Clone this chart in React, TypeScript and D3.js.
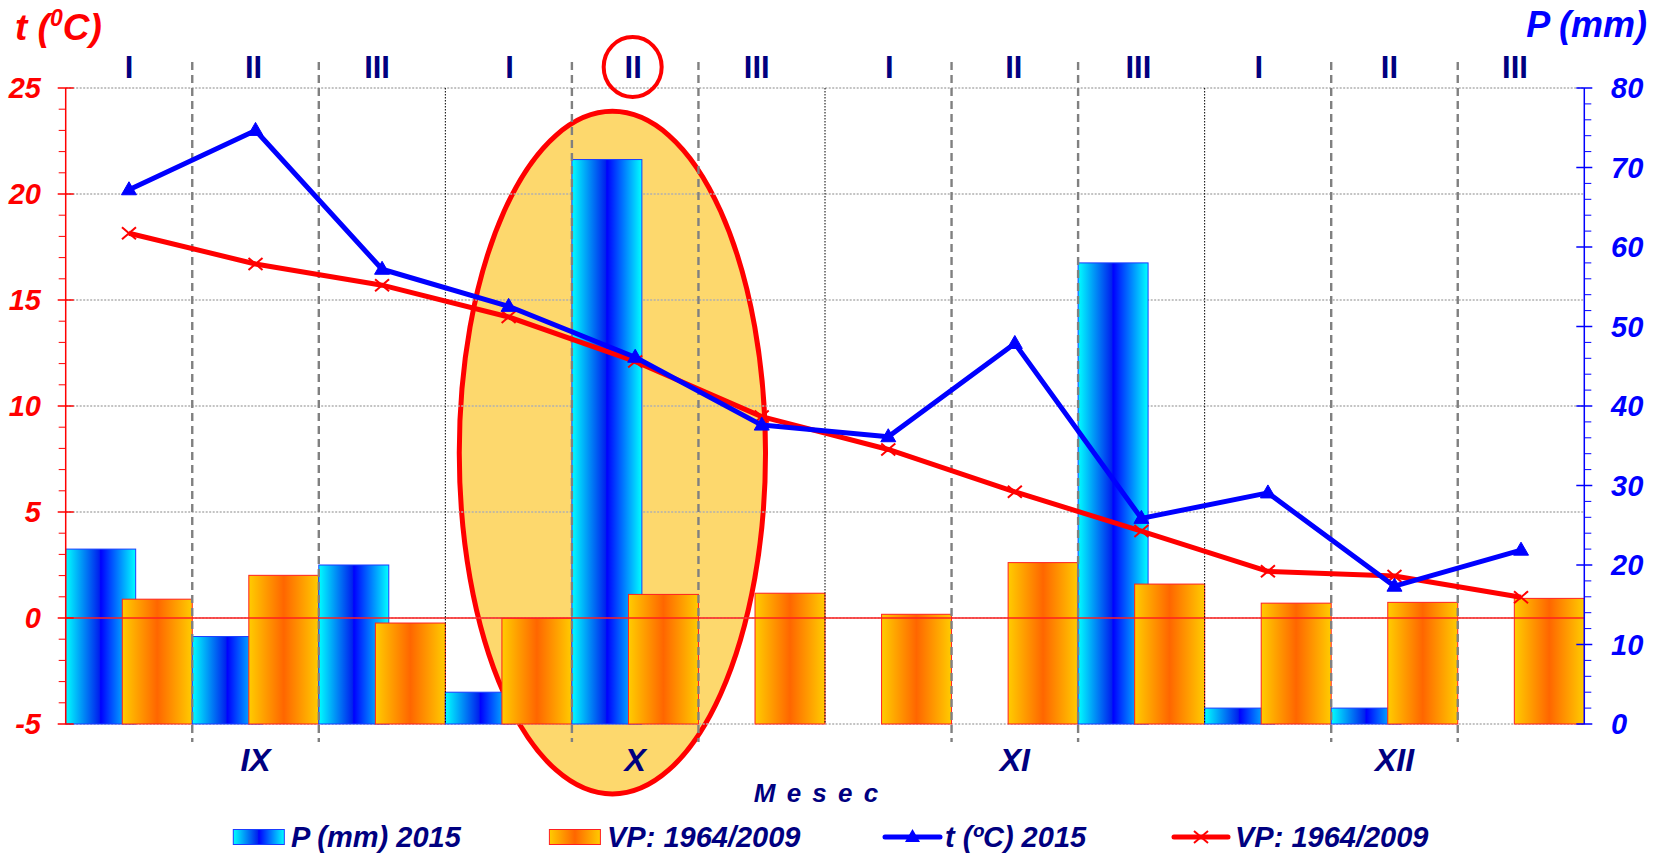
import React from 'react';
import * as d3 from 'd3';

// ---------- data ----------
const decades = ['I', 'II', 'III', 'I', 'II', 'III', 'I', 'II', 'III', 'I', 'II', 'III'];
const months = ['IX', 'X', 'XI', 'XII'];
const precip2015 = [22, 11, 20, 4, 71, 0, 0, 0, 58, 2, 2, 0];
const precipAvg = [15.7, 18.7, 12.7, 13.3, 16.3, 16.45, 13.8, 20.3, 17.6, 15.2, 15.3, 15.8];
const temp2015 = [20.2, 23.0, 16.45, 14.7, 12.3, 9.1, 8.55, 12.95, 4.7, 5.9, 1.5, 3.2];
const tempAvg = [18.15, 16.7, 15.7, 14.2, 12.1, 9.5, 7.95, 5.95, 4.1, 2.2, 1.98, 0.98];
const leftTicks = [-5, 0, 5, 10, 15, 20, 25];
const rightTicks = [0, 10, 20, 30, 40, 50, 60, 70, 80];
const legendLabels = ['P (mm) 2015', 'VP: 1964/2009', 't (ºC) 2015', 'VP: 1964/2009'];
const highlightIndex = 4;

// ---------- layout ----------
const W = 1663;
const H = 853;
const PL = 65.7;
const PR = 1584.3;
const PT = 88;
const PB = 724;
const FONT = "'Liberation Sans', Arial, sans-serif";
const NAVY = '#000080';
const decadeLabelShift = [0, -2, -5, 1, -2, -5, 1, -1, -3, -9, -5, -6];

export default function App() {
  const idx = d3.range(decades.length);
  const x = d3.scaleBand<number>().domain(idx).range([PL, PR]).padding(0);
  const bw = x.bandwidth();
  const barW = bw * 0.553;
  const yL = d3.scaleLinear().domain([-5, 25]).range([PB, PT]);
  const yR = d3.scaleLinear().domain([0, 80]).range([PB, PT]);
  const cx = (i: number) => (x(i) as number) + bw / 2;

  const lineT = d3.line<number>().x((_, i) => cx(i)).y((d) => yL(d));

  const leftMinor = d3.range(-5, 25.01, 1).filter((v) => v % 5 !== 0);
  const rightMinor = d3.range(0, 80.01, 2).filter((v) => v % 10 !== 0);
  const boundaries = d3.range(1, decades.length);

  // ellipse annotation around highlighted decade
  const eCx = (x(highlightIndex) as number) + bw * 0.32;
  const eRx = bw * 1.21;
  const eCy = yL(7.8);
  const eRy = yL(-5) - yL(11.1);

  const legendY = 837;
  const LF = 29;

  return (
    <svg width={W} height={H} style={{ position: 'absolute', left: 0, top: 0, background: '#fff' }} fontFamily={FONT}>
      <defs>
        <linearGradient id="gBlue" x1="0" x2="1" y1="0" y2="0">
          <stop offset="0" stopColor="#00FFFF" />
          <stop offset="0.48" stopColor="#0022EE" />
          <stop offset="0.5" stopColor="#0000FF" />
          <stop offset="1" stopColor="#00FFFF" />
        </linearGradient>
        <linearGradient id="gOrange" x1="0" x2="1" y1="0" y2="0">
          <stop offset="0" stopColor="#FFCC00" />
          <stop offset="0.5" stopColor="#FF6600" />
          <stop offset="1" stopColor="#FFCC00" />
        </linearGradient>
      </defs>

      {/* highlight ellipse */}
      <ellipse cx={eCx} cy={eCy} rx={eRx} ry={eRy} fill="#FDD86D" stroke="#FF0000" strokeWidth={5} />

      {/* horizontal gridlines */}
      {leftTicks.map((t) => (
        <line key={'g' + t} x1={PL} x2={PR} y1={yL(t)} y2={yL(t)} stroke="#b0b0b0" strokeWidth={1.4} strokeDasharray="2,1.5" />
      ))}

      {/* bars */}
      {idx.map((i) => (
        <g key={'b' + i}>
          {precip2015[i] > 0 && (
            <rect x={x(i)} y={yR(precip2015[i])} width={barW} height={yR(0) - yR(precip2015[i])} fill="url(#gBlue)" stroke="#1a3cff" strokeWidth={1} />
          )}
          <rect x={(x(i) as number) + bw - barW} y={yR(precipAvg[i])} width={barW} height={yR(0) - yR(precipAvg[i])} fill="url(#gOrange)" stroke="#FF2020" strokeWidth={1} />
        </g>
      ))}

      {/* zero line */}
      <line x1={PL} x2={PR} y1={yL(0)} y2={yL(0)} stroke="#FF2020" strokeWidth={1.3} />

      {/* vertical separators */}
      {boundaries.map((b) =>
        b % 3 === 0 ? (
          <line key={'v' + b} x1={x(b)} x2={x(b)} y1={PT} y2={PB} stroke="#000" strokeWidth={1} strokeDasharray="1.5,1.5" />
        ) : (
          <line key={'v' + b} x1={x(b)} x2={x(b)} y1={62} y2={742} stroke="#808080" strokeWidth={2.4} strokeDasharray="8,5" />
        )
      )}

      {/* left axis */}
      <line x1={PL} x2={PL} y1={PT} y2={PB} stroke="#FF0000" strokeWidth={1.5} />
      {leftMinor.map((t) => (
        <line key={'lm' + t} x1={PL - 7} x2={PL} y1={yL(t)} y2={yL(t)} stroke="#FF0000" strokeWidth={1} />
      ))}
      {leftTicks.map((t) => (
        <g key={'lt' + t}>
          <line x1={PL - 8} x2={PL + 8} y1={yL(t)} y2={yL(t)} stroke="#FF0000" strokeWidth={1.5} />
          <text x={41} y={yL(t)} dy="0.36em" textAnchor="end" fill="#FF0000" fontSize={29} fontWeight="bold" fontStyle="italic">
            {t}
          </text>
        </g>
      ))}

      {/* right axis */}
      <line x1={PR} x2={PR} y1={PT} y2={PB} stroke="#0000FF" strokeWidth={1.5} />
      {rightMinor.map((t) => (
        <line key={'rm' + t} x1={PR} x2={PR + 7} y1={yR(t)} y2={yR(t)} stroke="#0000FF" strokeWidth={1} />
      ))}
      {rightTicks.map((t) => (
        <g key={'rt' + t}>
          <line x1={PR - 8} x2={PR + 8} y1={yR(t)} y2={yR(t)} stroke="#0000FF" strokeWidth={1.5} />
          <text x={1611} y={yR(t)} dy="0.36em" textAnchor="start" fill="#0000FF" fontSize={29} fontWeight="bold" fontStyle="italic">
            {t}
          </text>
        </g>
      ))}

      {/* lines */}
      <path d={lineT(tempAvg) || ''} fill="none" stroke="#FF0000" strokeWidth={5} strokeLinejoin="round" />
      {tempAvg.map((v, i) => (
        <g key={'xm' + i} transform={`translate(${cx(i)},${yL(v)})`}>
          <line x1={-7} y1={-6} x2={7} y2={6} stroke="#FF0000" strokeWidth={2} />
          <line x1={-7} y1={6} x2={7} y2={-6} stroke="#FF0000" strokeWidth={2} />
        </g>
      ))}
      <path d={lineT(temp2015) || ''} fill="none" stroke="#0000FF" strokeWidth={5} strokeLinejoin="round" />
      {temp2015.map((v, i) => (
        <path key={'tm' + i} transform={`translate(${cx(i)},${yL(v)})`} d="M0,-8 L7.5,5 L-7.5,5 Z" fill="#0000FF" stroke="#0000FF" strokeWidth={1} />
      ))}

      {/* top decade labels */}
      {decades.map((d, i) => (
        <text key={'d' + i} x={cx(i) + decadeLabelShift[i]} y={78} textAnchor="middle" fill={NAVY} fontSize={31} fontWeight="bold">
          {d}
        </text>
      ))}
      <ellipse cx={cx(highlightIndex) - 2.5} cy={67} rx={29} ry={30} fill="none" stroke="#FF0000" strokeWidth={4} />

      {/* month labels */}
      {months.map((m, k) => (
        <text key={'m' + m} x={((x(k * 3) as number) + (x(k * 3 + 2) as number) + bw) / 2} y={771} textAnchor="middle" fill={NAVY} fontSize={32} fontWeight="bold" fontStyle="italic">
          {m}
        </text>
      ))}
      <text x={(PL + PR) / 2 - 8} y={802} textAnchor="middle" fill={NAVY} fontSize={26} fontWeight="bold" fontStyle="italic" letterSpacing={2}>
        M e s e c
      </text>

      {/* axis titles */}
      <text x={15} y={40} fill="#FF0000" fontSize={37} fontWeight="bold" fontStyle="italic">
        t (<tspan fontSize={23} dy={-14}>0</tspan>
        <tspan dy={14}>C)</tspan>
      </text>
      <text x={1647} y={37} textAnchor="end" fill="#0000FF" fontSize={36} fontWeight="bold" fontStyle="italic">
        P (mm)
      </text>

      {/* legend */}
      <g>
        <rect x={233.3} y={legendY - 7.5} width={51} height={15} fill="url(#gBlue)" stroke="#1a3cff" strokeWidth={1} />
        <text x={291} y={legendY + 10} fill={NAVY} fontSize={LF} fontWeight="bold" fontStyle="italic">{legendLabels[0]}</text>
        <rect x={549.4} y={legendY - 7.5} width={51} height={15} fill="url(#gOrange)" stroke="#FF2020" strokeWidth={1} />
        <text x={607} y={legendY + 10} fill={NAVY} fontSize={LF} fontWeight="bold" fontStyle="italic">{legendLabels[1]}</text>
        <line x1={885} x2={940} y1={legendY} y2={legendY} stroke="#0000FF" strokeWidth={5} strokeLinecap="round" />
        <path transform={`translate(912.5,${legendY})`} d="M0,-8 L7.5,5 L-7.5,5 Z" fill="#0000FF" />
        <text x={945} y={legendY + 10} fill={NAVY} fontSize={LF} fontWeight="bold" fontStyle="italic">{legendLabels[2]}</text>
        <line x1={1174} x2={1228} y1={legendY} y2={legendY} stroke="#FF0000" strokeWidth={5} strokeLinecap="round" />
        <g transform={`translate(1201,${legendY})`}>
          <line x1={-7} y1={-6} x2={7} y2={6} stroke="#FF0000" strokeWidth={2} />
          <line x1={-7} y1={6} x2={7} y2={-6} stroke="#FF0000" strokeWidth={2} />
        </g>
        <text x={1235} y={legendY + 10} fill={NAVY} fontSize={LF} fontWeight="bold" fontStyle="italic">{legendLabels[3]}</text>
      </g>
    </svg>
  );
}
